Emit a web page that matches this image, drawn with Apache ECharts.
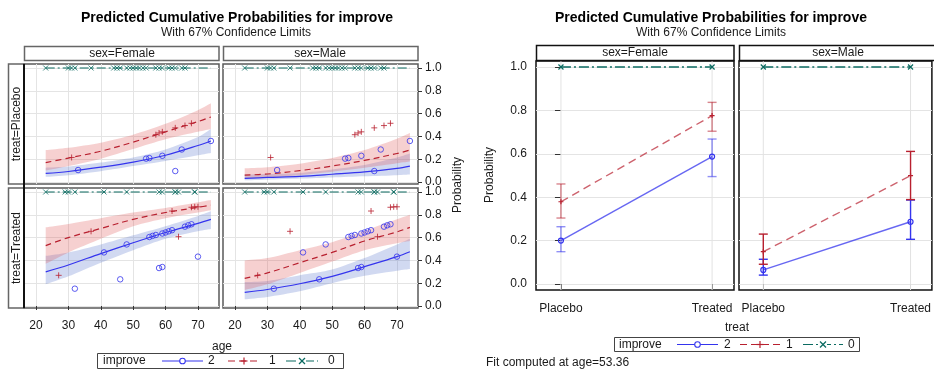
<!DOCTYPE html>
<html><head><meta charset="utf-8">
<script src="https://cdn.jsdelivr.net/npm/echarts@6/dist/echarts.min.js"></script>
<style>html,body{margin:0;padding:0;background:#fff}#c{width:934px;height:370px}</style>
</head><body><div id="c"></div><script>
// ---------- data ----------
const ages = [23, 30, 40, 50, 60, 70, 74];
const ageTicks = [20, 30, 40, 50, 60, 70];
const probTicks = [0, 0.2, 0.4, 0.6, 0.8, 1.0];

// Female / Placebo
const fp2 = [0.075, 0.092, 0.13, 0.175, 0.235, 0.32, 0.36];
const fp2Lo = [0.045, 0.06, 0.095, 0.14, 0.185, 0.235, 0.255];
const fp2Hi = [0.125, 0.135, 0.17, 0.215, 0.285, 0.395, 0.465];
const fp1 = [0.17, 0.21, 0.27, 0.35, 0.44, 0.53, 0.57];
const fp1Lo = [0.10, 0.14, 0.205, 0.29, 0.375, 0.44, 0.465];
const fp1Hi = [0.28, 0.30, 0.345, 0.415, 0.51, 0.63, 0.69];
// Male / Placebo
const mp2 = [0.032, 0.04, 0.05, 0.068, 0.088, 0.12, 0.14];
const mp2Lo = [0.015, 0.02, 0.03, 0.04, 0.05, 0.06, 0.065];
const mp2Hi = [0.065, 0.07, 0.08, 0.11, 0.15, 0.215, 0.25];
const mp1 = [0.06, 0.07, 0.10, 0.14, 0.19, 0.25, 0.28];
const mp1Lo = [0.03, 0.04, 0.06, 0.09, 0.125, 0.165, 0.18];
const mp1Hi = [0.12, 0.13, 0.16, 0.21, 0.28, 0.38, 0.43];
// Female / Treated
const ft2 = [0.30, 0.36, 0.46, 0.555, 0.645, 0.725, 0.76];
const ft2Lo = [0.19, 0.26, 0.38, 0.49, 0.59, 0.655, 0.675];
const ft2Hi = [0.44, 0.47, 0.54, 0.62, 0.70, 0.79, 0.83];
const ft1 = [0.53, 0.60, 0.68, 0.76, 0.82, 0.865, 0.885];
const ft1Lo = [0.37, 0.47, 0.59, 0.70, 0.77, 0.82, 0.84];
const ft1Hi = [0.69, 0.72, 0.77, 0.82, 0.86, 0.91, 0.93];
// Male / Treated
const mt2 = [0.12, 0.145, 0.195, 0.26, 0.345, 0.433, 0.476];
const mt2Lo = [0.06, 0.08, 0.13, 0.20, 0.265, 0.31, 0.325];
const mt2Hi = [0.21, 0.22, 0.27, 0.32, 0.42, 0.54, 0.59];
const mt1 = [0.243, 0.29, 0.38, 0.47, 0.57, 0.65, 0.69];
const mt1Lo = [0.14, 0.19, 0.29, 0.39, 0.49, 0.55, 0.57];
const mt1Hi = [0.40, 0.42, 0.49, 0.56, 0.66, 0.76, 0.80];

// observed points [age, prob]
const placeboObs2 = [[33,0.105],[54,0.205],[55,0.21],[59,0.23],[63,0.096],[65,0.285],[74,0.36]];
const placeboObs1 = [[31,0.215],[57,0.415],[58,0.43],[59,0.44],[63,0.475],[66,0.495],[68,0.515]];
const placeboAges0 = [23,30,31,32,37,44,45,46,48,49,50,51,52,53,54,57,58,59,61,62,63,65,66];
const treatedObs2 = [[32,0.152],[46,0.234],[58,0.333],[59,0.342],[70,0.433],[41,0.47],[48,0.54],[55,0.605],[56,0.615],[57,0.623],[59,0.636],[60,0.645],[61,0.655],[62,0.665],[66,0.696],[67,0.708],[68,0.717]];
const treatedObs1 = [[27,0.269],[37,0.655],[62,0.833],[64,0.608],[68,0.866],[69,0.87],[70,0.87]];
const treatedAges0 = [23,29,30,32,41,48,58,59,63,63,64,69,69];

// fit at age=53.36
const treatCats = ['Placebo', 'Treated'];
const fitF2 = [0.200, 0.587], fitF2Lo = [0.149, 0.495], fitF2Hi = [0.264, 0.668];
const fitF1 = [0.379, 0.776], fitF1Lo = [0.304, 0.704], fitF1Hi = [0.461, 0.837];
const fitF0 = [1, 1];
const fitM2 = [0.065, 0.287], fitM2Lo = [0.041, 0.206], fitM2Hi = [0.114, 0.387];
const fitM1 = [0.149, 0.499], fitM1Lo = [0.091, 0.389], fitM1Hi = [0.230, 0.611];
const fitM0 = [1, 1];

// ---------- style ----------
const FONT = '"Liberation Sans", Arial, sans-serif';
const BLUE = '#3434ee', RED = '#b8202f', TEAL = '#0b6b61';
const BAND_BLUE = 'rgba(90,120,205,0.28)', BAND_RED = 'rgba(222,85,85,0.28)';
const TXT = '#1a1a1a';
const PLUS = 'path://M5,0L5,10M0,5L10,5';
const CROSS = 'path://M0,0L10,10M10,0L0,10';

const chart = echarts.init(document.getElementById('c'), null, {width: 934, height: 370});

const grids = [
  {left: 24, top: 64, width: 195, height: 120},
  {left: 223, top: 64, width: 195, height: 120},
  {left: 24, top: 188, width: 195, height: 120},
  {left: 223, top: 188, width: 195, height: 120},
  {left: 536, top: 61, width: 198, height: 229},
  {left: 739, top: 61, width: 198, height: 229}
].map((g, i) => Object.assign({show: true, borderColor: i < 4 ? '#5a5a5a' : '#111', borderWidth: 1.5, backgroundColor: 'transparent'}, g));

const xAxes = [], yAxes = [];
for (let gi = 0; gi < 4; gi++) {
  xAxes.push({gridIndex: gi, type: 'value', min: 16.3, max: 76.5,
    axisLine: {show: false},
    axisTick: {show: gi >= 2, customValues: ageTicks, length: 4, lineStyle: {color: '#333'}},
    axisLabel: {show: gi >= 2, customValues: ageTicks, margin: 12, fontSize: 12, color: TXT, fontFamily: FONT},
    splitLine: {show: true, lineStyle: {color: '#e4e4e4', width: 1}}});
  yAxes.push({gridIndex: gi, type: 'value', min: -0.0175, max: 1.035, position: 'right',
    axisLine: {show: false},
    axisTick: {show: gi % 2 === 1, customValues: probTicks, length: 4, lineStyle: {color: '#333'}},
    axisLabel: {show: gi % 2 === 1, customValues: probTicks, margin: 7, fontSize: 12, color: TXT, fontFamily: FONT,
      formatter: v => v.toFixed(1)},
    splitLine: {show: true, lineStyle: {color: '#e4e4e4', width: 1}}});
}
for (let gi = 4; gi < 6; gi++) {
  xAxes.push({gridIndex: gi, type: 'value', min: -0.165, max: 1.145,
    axisLine: {show: false},
    axisTick: {show: true, customValues: [0, 1], length: 6, lineStyle: {color: '#333'}},
    axisLabel: {show: true, customValues: [0, 1], margin: 13, fontSize: 12, color: TXT, fontFamily: FONT,
      formatter: v => treatCats[Math.round(v)] || ''},
    splitLine: {show: false}});
  yAxes.push({gridIndex: gi, type: 'value', min: -0.0276, max: 1.0276, position: 'left',
    axisLine: {show: false},
    axisTick: {show: gi === 4, customValues: probTicks, length: 6, lineStyle: {color: '#333'}},
    axisLabel: {show: gi === 4, customValues: probTicks, margin: 9, fontSize: 12, color: TXT, fontFamily: FONT,
      formatter: v => v.toFixed(1)},
    splitLine: {show: true, lineStyle: {color: '#e4e4e4', width: 1}}});
}

// smooth open curve through screen points (Catmull-Rom -> Bezier), rendering only
function smoothPath(pts, startCmd) {
  let d = startCmd + pts[0][0] + ',' + pts[0][1];
  const t = 0.8;
  for (let i = 0; i < pts.length - 1; i++) {
    const p0 = pts[Math.max(i - 1, 0)], p1 = pts[i], p2 = pts[i + 1], p3 = pts[Math.min(i + 2, pts.length - 1)];
    const c1 = [p1[0] + (p2[0] - p0[0]) / 6 * t, p1[1] + (p2[1] - p0[1]) / 6 * t];
    const c2 = [p2[0] - (p3[0] - p1[0]) / 6 * t, p2[1] - (p3[1] - p1[1]) / 6 * t];
    d += 'C' + c1[0] + ',' + c1[1] + ',' + c2[0] + ',' + c2[1] + ',' + p2[0] + ',' + p2[1];
  }
  return d;
}

const series = [];
function band(gi, lo, hi, color) {
  const data = ages.map((a, i) => [a, lo[i], hi[i]]);
  series.push({type: 'custom', xAxisIndex: gi, yAxisIndex: gi, silent: true, z: 1,
    data: data, encode: {x: 0, y: [1, 2]},
    renderItem: (params, api) => {
      if (params.dataIndex !== 0) return null;
      const top = data.map(d => api.coord([d[0], d[2]]));
      const bot = data.map(d => api.coord([d[0], d[1]])).reverse();
      const path = smoothPath(top, 'M') + smoothPath(bot, 'L') + 'Z';
      return {type: 'path', shape: {pathData: path}, style: {fill: color, stroke: null}};
    }});
}
function curve(gi, ys, color, type) {
  series.push({type: 'line', xAxisIndex: gi, yAxisIndex: gi, silent: true, smooth: 0.35,
    showSymbol: false, lineStyle: {color: color, width: 1.2, type: type}, data: ages.map((a, i) => [a, ys[i]])});
}
function scatter(gi, data, symbol, color, size) {
  series.push({type: 'scatter', xAxisIndex: gi, yAxisIndex: gi, silent: true, symbol: symbol, symbolSize: size,
    itemStyle: {color: 'rgba(0,0,0,0)', borderColor: color, borderWidth: 1},
    data: data, z: 4});
}
const leftPanels = [
  {gi: 0, p2: fp2, lo2: fp2Lo, hi2: fp2Hi, p1: fp1, lo1: fp1Lo, hi1: fp1Hi, o2: placeboObs2, o1: placeboObs1, a0: placeboAges0},
  {gi: 1, p2: mp2, lo2: mp2Lo, hi2: mp2Hi, p1: mp1, lo1: mp1Lo, hi1: mp1Hi, o2: placeboObs2, o1: placeboObs1, a0: placeboAges0},
  {gi: 2, p2: ft2, lo2: ft2Lo, hi2: ft2Hi, p1: ft1, lo1: ft1Lo, hi1: ft1Hi, o2: treatedObs2, o1: treatedObs1, a0: treatedAges0},
  {gi: 3, p2: mt2, lo2: mt2Lo, hi2: mt2Hi, p1: mt1, lo1: mt1Lo, hi1: mt1Hi, o2: treatedObs2, o1: treatedObs1, a0: treatedAges0}
];
leftPanels.forEach(p => {
  band(p.gi, p.lo2, p.hi2, BAND_BLUE);
  band(p.gi, p.lo1, p.hi1, BAND_RED);
  curve(p.gi, p.p2, BLUE, 'solid');
  curve(p.gi, p.p1, RED, [6, 4]);
  series.push({type: 'line', xAxisIndex: p.gi, yAxisIndex: p.gi, silent: true, showSymbol: false,
    lineStyle: {color: TEAL, width: 1.2, type: [9, 3, 2, 3]},
    data: [[ages[0], 1], [ages[ages.length - 1], 1]]});
  scatter(p.gi, p.o2, 'circle', BLUE, 5.5);
  scatter(p.gi, p.o1, PLUS, RED, 6);
  scatter(p.gi, p.a0.map(a => [a, 1]), CROSS, TEAL, 5);
});

// right chart
function vgrid(gi) {
  series.push({type: 'custom', xAxisIndex: gi, yAxisIndex: gi, silent: true, z: 1,
    data: treatCats.map((c, i) => [i]), encode: {x: 0},
    renderItem: (params, api) => {
      const p = api.coord([api.value(0), 0]);
      const cs = params.coordSys;
      return {type: 'line', shape: {x1: p[0], y1: cs.y, x2: p[0], y2: cs.y + cs.height},
        style: {stroke: '#e2e2e2', lineWidth: 1}};
    }});
}
function errBars(gi, lo, hi, color, opacity) {
  series.push({type: 'custom', xAxisIndex: gi, yAxisIndex: gi, silent: true, z: 3,
    data: treatCats.map((c, i) => [i, lo[i], hi[i]]), encode: {x: 0, y: [1, 2]},
    renderItem: (params, api) => {
      const x = api.value(0);
      const l = api.coord([x, api.value(1)]), h = api.coord([x, api.value(2)]);
      const w = 4.5, st = {stroke: color, lineWidth: 1.4, opacity: opacity};
      return {type: 'group', children: [
        {type: 'line', shape: {x1: l[0], y1: l[1], x2: h[0], y2: h[1]}, style: st},
        {type: 'line', shape: {x1: l[0] - w, y1: l[1], x2: l[0] + w, y2: l[1]}, style: st},
        {type: 'line', shape: {x1: h[0] - w, y1: h[1], x2: h[0] + w, y2: h[1]}, style: st}]};
    }});
}
function fitLine(gi, ys, color, type, symbol, size, opacity) {
  series.push({type: 'line', xAxisIndex: gi, yAxisIndex: gi, silent: true, z: 4,
    symbol: symbol, symbolSize: size, showSymbol: true,
    lineStyle: {color: color, width: 1.4, type: type, opacity: opacity},
    itemStyle: {color: 'rgba(0,0,0,0)', borderColor: color, borderWidth: 1.2},
    data: treatCats.map((c, i) => [i, ys[i]])});
}
const rightPanels = [
  {gi: 4, p2: fitF2, lo2: fitF2Lo, hi2: fitF2Hi, p1: fitF1, lo1: fitF1Lo, hi1: fitF1Hi, p0: fitF0, eo: 0.55},
  {gi: 5, p2: fitM2, lo2: fitM2Lo, hi2: fitM2Hi, p1: fitM1, lo1: fitM1Lo, hi1: fitM1Hi, p0: fitM0, eo: 1}
];
rightPanels.forEach(p => {
  vgrid(p.gi);
  errBars(p.gi, p.lo2, p.hi2, BLUE, p.eo);
  errBars(p.gi, p.lo1, p.hi1, RED, p.eo);
  fitLine(p.gi, p.p2, BLUE, 'solid', 'circle', 5, 0.75);
  fitLine(p.gi, p.p1, RED, [8, 5], PLUS, 5, 0.7);
  fitLine(p.gi, p.p0, TEAL, [10, 3, 2, 3], CROSS, 5, 1);
});

// ---------- decorations ----------
function txt(x, y, text, opt) {
  opt = opt || {};
  return {type: 'text', x: x, y: y, rotation: opt.rot || 0, z: 100, silent: true,
    style: {text: text, fill: opt.color || TXT, font: (opt.weight || 'normal') + ' ' + (opt.size || 12) + 'px ' + FONT,
      align: opt.align || 'center', verticalAlign: 'middle', textAlign: opt.align || 'center', textVerticalAlign: 'middle'}};
}
function rect(x, y, w, h, stroke, lw, fill) {
  return {type: 'rect', z: 50, silent: true, shape: {x: x, y: y, width: w, height: h},
    style: {fill: fill || '#fff', stroke: stroke, lineWidth: lw}};
}
function line(x1, y1, x2, y2, color, lw, dash) {
  return {type: 'line', z: 101, silent: true, shape: {x1: x1, y1: y1, x2: x2, y2: y2},
    style: {stroke: color, lineWidth: lw || 1.2, lineDash: dash || null}};
}
function legend(x0, y0, w, h, pos) {
  const cy = y0 + h / 2;
  const items = [];
  items.push(rect(x0, y0, w, h, '#444', 1, '#fff'));
  items.push(txt(pos.label, cy, 'improve', {align: 'left'}));
  items.push(line(pos.b[0], cy, pos.b[1], cy, BLUE, 1.2));
  items.push({type: 'circle', z: 102, silent: true, shape: {cx: (pos.b[0] + pos.b[1]) / 2, cy: cy, r: 2.8}, style: {fill: '#fff', stroke: BLUE, lineWidth: 1.1}});
  items.push(txt(pos.b[2], cy, '2', {align: 'left'}));
  items.push(line(pos.r[0], cy, pos.r[1], cy, RED, 1.2, [7, 4]));
  const rx = (pos.r[0] + pos.r[1]) / 2;
  items.push(line(rx - 3.5, cy, rx + 3.5, cy, RED, 1.2));
  items.push(line(rx, cy - 3.5, rx, cy + 3.5, RED, 1.2));
  items.push(txt(pos.r[2], cy, '1', {align: 'left'}));
  items.push(line(pos.t[0], cy, pos.t[1], cy, TEAL, 1.2, [10, 3, 2, 3]));
  const tx = (pos.t[0] + pos.t[1]) / 2;
  items.push({type: 'rect', z: 101, silent: true, shape: {x: tx - 4, y: cy - 4, width: 8, height: 8}, style: {fill: '#fff'}});
  items.push(line(tx - 3, cy - 3, tx + 3, cy + 3, TEAL, 1.2));
  items.push(line(tx + 3, cy - 3, tx - 3, cy + 3, TEAL, 1.2));
  items.push(txt(pos.t[2], cy, '0', {align: 'left'}));
  return items;
}

let gfx = [];
// left chart
gfx.push(txt(237, 18, 'Predicted Cumulative Probabilities for improve', {weight: 'bold', size: 14, color: '#000'}));
gfx.push(txt(236, 33, 'With 67% Confidence Limits', {size: 12}));
gfx.push(rect(24.5, 46.5, 194.5, 14, '#666', 1.5), txt(122, 53.5, 'sex=Female'));
gfx.push(rect(223.5, 46.5, 194.5, 14, '#666', 1.5), txt(320, 53.5, 'sex=Male'));
gfx.push(rect(8.5, 64, 15.5, 120, '#666', 1.5), txt(16.5, 124, 'treat=Placebo', {rot: Math.PI / 2}));
gfx.push(rect(8.5, 188, 15.5, 120, '#666', 1.5), txt(16.5, 248, 'treat=Treated', {rot: Math.PI / 2}));
gfx.push(line(24, 64, 24, 308, '#111', 2));
gfx.push(txt(458, 185, 'Probability', {rot: Math.PI / 2}));
gfx.push(txt(222, 347, 'age'));
gfx = gfx.concat(legend(97.5, 353.5, 246, 15, {label: 103, b: [162, 203, 208], r: [228, 260, 269], t: [286, 318, 328]}));
// right chart
gfx.push(txt(711, 18, 'Predicted Cumulative Probabilities for improve', {weight: 'bold', size: 14, color: '#000'}));
gfx.push(txt(711, 33, 'With 67% Confidence Limits', {size: 12}));
gfx.push(rect(536.5, 45.5, 197.5, 15, '#111', 1.5), txt(635, 53, 'sex=Female'));
gfx.push(rect(739.5, 45.5, 197.5, 15, '#111', 1.5), txt(838, 53, 'sex=Male'));
gfx.push(txt(490, 175, 'Probability', {rot: Math.PI / 2}));
gfx.push(txt(737, 328, 'treat'));
gfx = gfx.concat(legend(614.5, 337.5, 245, 14, {label: 619, b: [677, 718, 724], r: [740, 780, 786], t: [803, 843, 848]}));
gfx.push(txt(486, 363, 'Fit computed at age=53.36', {align: 'left'}));

chart.setOption({
  animation: false,
  backgroundColor: '#fff',
  grid: grids,
  xAxis: xAxes,
  yAxis: yAxes,
  series: series,
  graphic: {elements: gfx}
});
</script></body></html>
